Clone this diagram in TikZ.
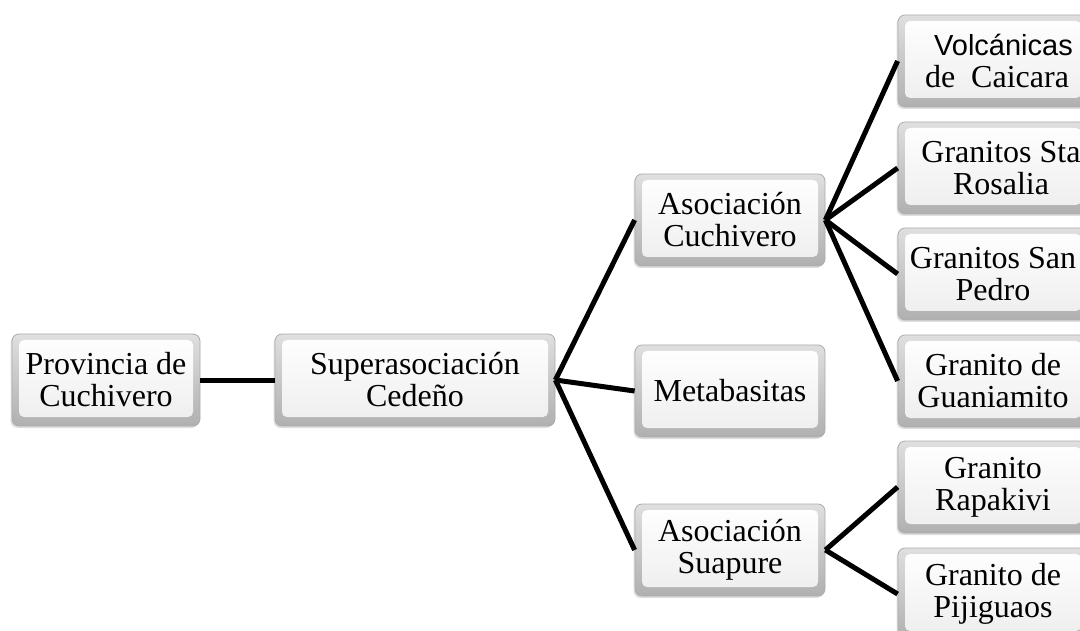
\documentclass[tikz,border=0pt]{standalone}
\usepackage{fontspec}
\setmainfont{Liberation Serif}
\newfontfamily\volcfont{Liberation Sans}
\usetikzlibrary{shadows}
\begin{document}
\begin{tikzpicture}[x=1pt,y=-1pt,
  bevel/.style={draw=gray!65, line width=0.8pt, rounded corners=7pt,
    top color=gray!25, bottom color=gray!62, minimum height=92pt, inner sep=0pt,
    drop shadow={opacity=0.25, shadow xshift=-1.5pt, shadow yshift=-2pt},
    path picture={\path[top color=white, bottom color=gray!14, rounded corners=5pt]
      ([shift={(7pt,-6pt)}]path picture bounding box.north west) rectangle
      ([shift={(-7pt,9pt)}]path picture bounding box.south east);}},
  midbox/.style={bevel, minimum width=190pt},
  txt/.style={align=center, inner sep=0pt, font=\fontsize{32}{32}\selectfont},
  link/.style={draw=black, line width=5pt}]
\useasboundingbox (0,0) rectangle (1080,631);
\begin{scope}
\clip (0,0) rectangle (1080,631);

% box frames
\node[bevel, minimum width=188pt] (prov) at (106,380) {};
\node[bevel, minimum width=280pt] (super) at (415,380) {};
\node[midbox] (cuch) at (730,220) {};
\node[midbox] (meta) at (730,391) {};
\node[midbox] (suap) at (730,550) {};
\node[midbox] (volc) at (993,61) {};
\node[midbox] (rosa) at (993,168) {};
\node[midbox] (pedro) at (993,274) {};
\node[midbox] (guan) at (993,381) {};
\node[midbox] (rapa) at (993,487) {};
\node[midbox] (piji) at (993,594) {};

% connectors
\draw[link] (prov.east) -- (super.west);
\draw[link] (super.east) -- (cuch.west);
\draw[link] (super.east) -- (meta.west);
\draw[link] (super.east) -- (suap.west);
\draw[link] (cuch.east) -- (volc.west);
\draw[link] (cuch.east) -- (rosa.west);
\draw[link] (cuch.east) -- (pedro.west);
\draw[link] (cuch.east) -- (guan.west);
\draw[link] (suap.east) -- (rapa.west);
\draw[link] (suap.east) -- (piji.west);

% labels
\node[txt] (tprov) at (prov) {Provincia de\\Cuchivero};
\node[txt] (tsuper) at (super) {Superasociación\\Cedeño};
\node[txt] (tcuch) at (cuch) {Asociación\\Cuchivero};
\node[txt] (tmeta) at (meta) {Metabasitas};
\node[txt] (tsuap) at (suap) {Asociación\\Suapure};
\node[txt] (tvolc) at ([xshift=4pt]volc.center) {{\volcfont\fontsize{29}{32}\selectfont\ \,Volcánicas}\\de~~Caicara};
\node[txt] (trosa) at ([xshift=8pt]rosa.center) {Granitos Sta\\Rosalia\hspace{18pt}};
\node[txt] (tpedro) at (pedro) {Granitos San\\Pedro};
\node[txt] (tguan) at (guan) {Granito de\\Guaniamito};
\node[txt] (trapa) at (rapa) {Granito\\Rapakivi};
\node[txt] (tpiji) at (piji) {Granito de\\Pijiguaos};
\end{scope}
\end{tikzpicture}
\end{document}
